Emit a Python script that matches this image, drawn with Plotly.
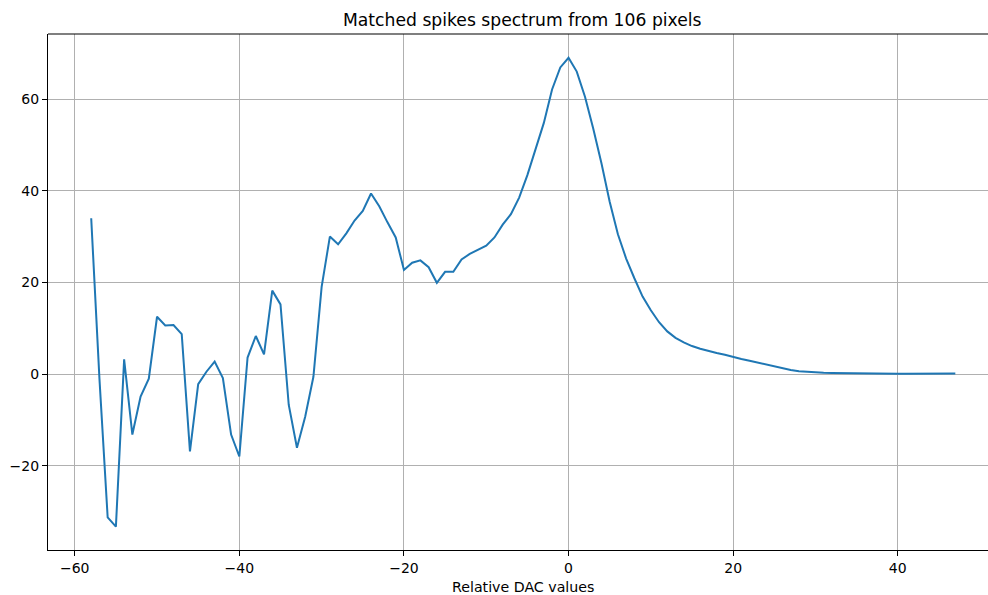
import plotly.graph_objects as go

dac_values = list(range(-58, 48))
spike_counts = [
    34.0, -1.0, -31.3, -33.3, 3.2, -13.2, -4.9, -1.0, 12.5, 10.6,
    10.7, 8.7, -16.9, -2.2, 0.5, 2.7, -0.9, -13.2, -18.0, 3.6,
    8.3, 4.3, 18.2, 15.2, -6.7, -16.1, -9.3, -0.6, 19.0, 30.0,
    28.3, 30.7, 33.5, 35.6, 39.4, 36.6, 33.1, 29.8, 22.7, 24.3,
    24.8, 23.3, 19.9, 22.3, 22.3, 25.0, 26.2, 27.1, 28.0, 29.8,
    32.6, 34.9, 38.5, 43.4, 48.9, 54.8, 62.1, 66.9, 69.0, 66.0,
    60.5, 53.6, 46.0, 37.6, 30.5, 25.2, 20.9, 16.9, 13.9, 11.3,
    9.3, 7.9, 6.9, 6.1, 5.5, 5.0, 4.6, 4.2, 3.7, 3.3,
    2.9, 2.5, 2.1, 1.6, 1.2, 0.9, 0.6, 0.45, 0.35, 0.28,
    0.22, 0.18, 0.15, 0.12, 0.1, 0.09, 0.08, 0.07, 0.06, 0.05,
    0.05, 0.04, 0.04, 0.05, 0.08, 0.1,
]
x_ticks = [-60, -40, -20, 0, 20, 40]
y_ticks = [-20, 0, 20, 40, 60]
title_text = "Matched spikes spectrum from 106 pixels"
xlabel_text = "Relative DAC values"

FONT = "DejaVu Sans"
PLOT_TOP, PLOT_BOTTOM = 34, 550
PH = PLOT_BOTTOM - PLOT_TOP


def paper_y(py):
    return (PLOT_BOTTOM - py) / PH


fig = go.Figure()
fig.add_trace(go.Scatter(
    x=dac_values, y=spike_counts, mode="lines",
    line=dict(color="#1f77b4", width=2),
    showlegend=False, hoverinfo="skip",
))

axis_common = dict(
    showgrid=True, gridcolor="#b0b0b0", gridwidth=1.1,
    zeroline=False, showline=True, linecolor="black", linewidth=1.1,
    ticks="outside", ticklen=5, tickwidth=1.1, tickcolor="black",
    tickfont=dict(family=FONT, size=14, color="black"),
)

fig.update_layout(
    width=988, height=595, autosize=False,
    margin=dict(l=48, r=0, t=PLOT_TOP, b=595 - PLOT_BOTTOM, pad=0),
    paper_bgcolor="white", plot_bgcolor="white",
    font=dict(family=FONT, color="black"),
    xaxis=dict(range=[-63.25, 50.97], tickvals=x_ticks, mirror=False, **axis_common),
    yaxis=dict(range=[-38.4, 74.2], tickvals=y_ticks, mirror=False, **axis_common),
    annotations=[
        dict(text=title_text, xref="paper", yref="paper", x=0.5048, y=paper_y(20),
             xanchor="center", yanchor="middle", showarrow=False,
             font=dict(family=FONT, size=17.2, color="black")),
        dict(text=xlabel_text, xref="paper", yref="paper", x=0.5048, y=paper_y(587),
             xanchor="center", yanchor="middle", showarrow=False,
             font=dict(family=FONT, size=14.2, color="black")),
    ],
    shapes=[
        dict(type="line", xref="paper", yref="paper", x0=0, x1=1, y0=1, y1=1,
             line=dict(color="black", width=1.1)),
    ],
)

fig.write_html(
    "out.html",
    config={"displayModeBar": False},
    post_script="document.body.style.margin='0';document.body.style.overflow='hidden';",
)
